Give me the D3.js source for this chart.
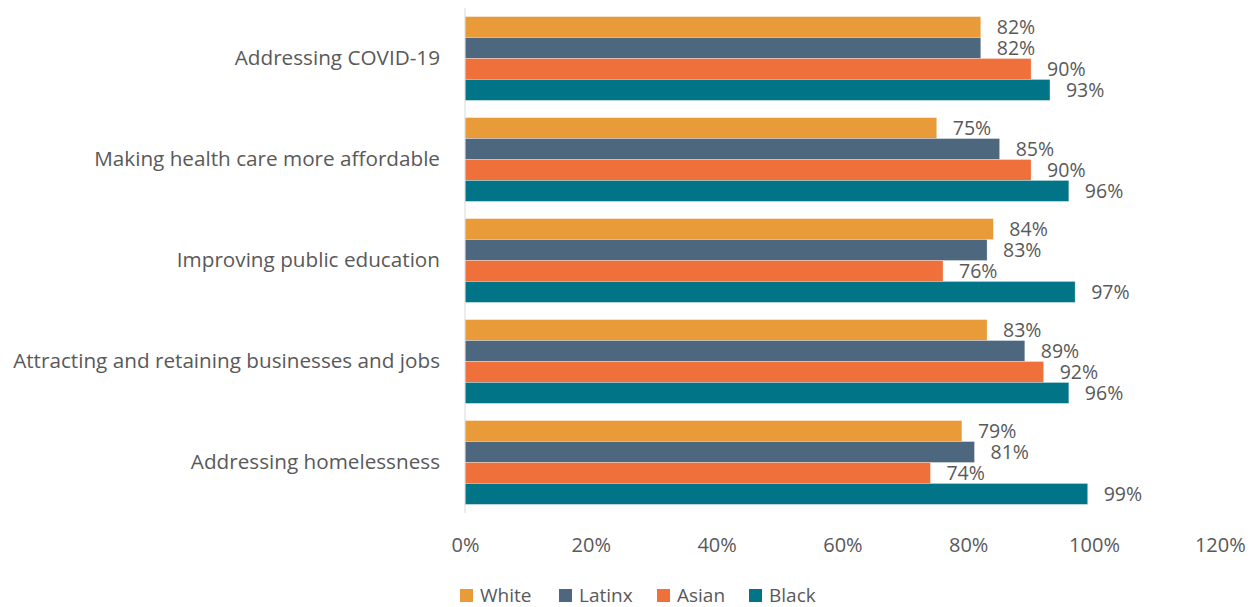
<!DOCTYPE html>
<html>
<head>
<meta charset="utf-8">
<script src="https://cdn.jsdelivr.net/npm/d3@7"></script>
<style>
  html, body { margin: 0; padding: 0; background: #fff; }
  svg { display: block; font-family: "Open Sans", Lato, sans-serif; }
</style>
</head>
<body>
<svg id="chart" width="1258" height="607"></svg>
<script>
// Survey priorities by race/ethnicity (share rating each issue as important)
const categories = [
  "Addressing COVID-19",
  "Making health care more affordable",
  "Improving public education",
  "Attracting and retaining businesses and jobs",
  "Addressing homelessness"
];
const seriesNames = ["White", "Latinx", "Asian", "Black"];
const white  = [82, 75, 84, 83, 79];
const latinx = [82, 85, 83, 89, 81];
const asian  = [90, 90, 76, 92, 74];
const black  = [93, 96, 97, 96, 99];
const xTicks = [0, 20, 40, 60, 80, 100, 120];

const seriesValues = [white, latinx, asian, black];
const colors = ["#E99B3A", "#4D687E", "#F0703B", "#027488"];
const textColor = "#595959";
const fontFamily = "'Open Sans', Lato, sans-serif";

const svg = d3.select("#chart");
const margin = { left: 465, top: 8, bottom: 94 };
const H = 607;

const x = d3.scaleLinear().domain([0, 120]).range([margin.left, margin.left + 120 * 6.29]);
const y = d3.scaleBand().domain(categories).range([margin.top, H - margin.bottom]).paddingInner(0.17).paddingOuter(0.085);
const ySub = d3.scaleBand().domain(seriesNames).range([0, y.bandwidth()]);

// Category groups with one bar per series
const groups = svg.selectAll("g.cat")
  .data(categories)
  .join("g")
  .attr("class", "cat")
  .attr("transform", d => `translate(0,${y(d)})`);

groups.each(function(cat, ci) {
  const g = d3.select(this);
  seriesNames.forEach((s, si) => {
    const v = seriesValues[si][ci];
    g.append("rect")
      .attr("x", x(0))
      .attr("y", ySub(s))
      .attr("width", x(v) - x(0))
      .attr("height", ySub.bandwidth())
      .attr("fill", colors[si])
      .attr("stroke", "#ffffff")
      .attr("stroke-opacity", 0.5)
      .attr("stroke-width", 0.6);
    g.append("text")
      .attr("x", x(v) + 16)
      .attr("y", ySub(s) + ySub.bandwidth() / 2)
      .attr("dy", "0.36em")
      .attr("fill", textColor)
      .attr("font-size", 19.5)
      .attr("font-family", fontFamily)
      .text(v + "%");
  });
});

// Vertical axis line
svg.append("line")
  .attr("x1", x(0)).attr("x2", x(0))
  .attr("y1", margin.top).attr("y2", H - margin.bottom)
  .attr("stroke", "#d9d9d9").attr("stroke-width", 1);

// Category labels
const yAxis = d3.axisLeft(y).tickSize(0).tickPadding(25);
const yg = svg.append("g").attr("transform", `translate(${x(0)},0)`).call(yAxis);
yg.select(".domain").remove();
yg.selectAll("text").attr("fill", textColor).attr("font-size", 20.7).attr("font-family", fontFamily);

// Percentage axis labels
const xAxis = d3.axisBottom(x).tickValues(xTicks).tickFormat(d => d + "%").tickSize(0).tickPadding(17);
const xg = svg.append("g").attr("transform", `translate(0,${H - margin.bottom + 8})`).call(xAxis);
xg.select(".domain").remove();
xg.selectAll("text").attr("fill", textColor).attr("font-size", 20).attr("font-family", fontFamily);

// Legend
const legendX = [460, 559, 657, 749];
const legend = svg.append("g");
seriesNames.forEach((s, i) => {
  legend.append("rect")
    .attr("x", legendX[i]).attr("y", 589)
    .attr("width", 13).attr("height", 13)
    .attr("fill", colors[i]);
  legend.append("text")
    .attr("x", legendX[i] + 20).attr("y", 602)
    .attr("fill", textColor).attr("font-size", 19)
    .attr("font-family", fontFamily)
    .text(s);
});
</script>
</body>
</html>
